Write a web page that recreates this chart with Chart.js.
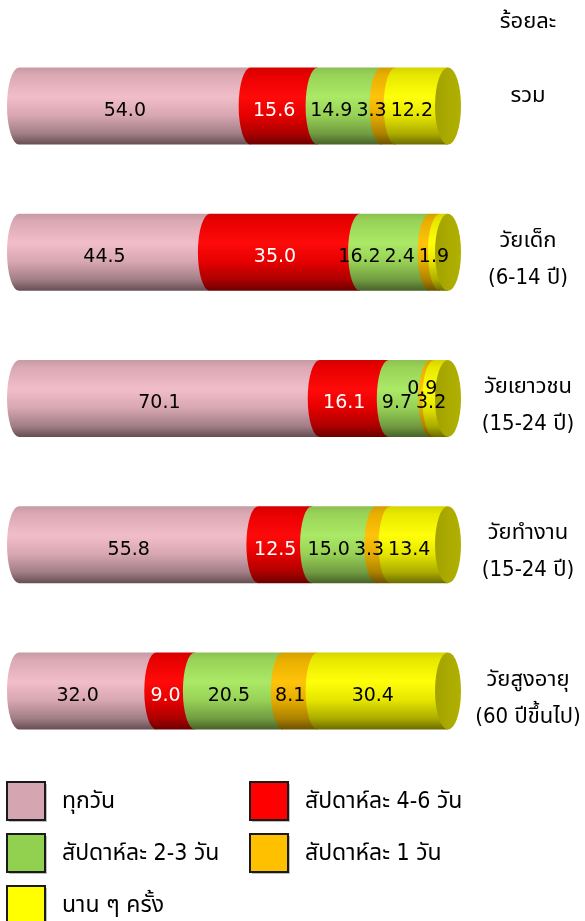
<!DOCTYPE html>
<html>
<head>
<meta charset="utf-8">
<script src="https://cdn.jsdelivr.net/npm/chart.js@4/dist/chart.umd.min.js"></script>
<style>
  html, body { margin: 0; padding: 0; background: #ffffff; }
  #wrap { position: relative; width: 585px; height: 921px; }
</style>
</head>
<body>
<div id="wrap"><canvas id="c" width="585" height="921"></canvas></div>
<script>
// ---- data ----
const categories = [
  ["รวม"],
  ["วัยเด็ก", "(6-14 ปี)"],
  ["วัยเยาวชน", "(15-24 ปี)"],
  ["วัยทำงาน", "(15-24 ปี)"],
  ["วัยสูงอายุ", "(60 ปีขึ้นไป)"]
];
const seriesNames = ["ทุกวัน", "สัปดาห์ละ 4-6 วัน", "สัปดาห์ละ 2-3 วัน", "สัปดาห์ละ 1 วัน", "นาน ๆ ครั้ง"];
const everyDay   = [54.0, 44.5, 70.1, 55.8, 32.0];
const week4to6   = [15.6, 35.0, 16.1, 12.5, 9.0];
const week2to3   = [14.9, 16.2, 9.7, 15.0, 20.5];
const week1      = [3.3, 2.4, 0.9, 3.3, 8.1];
const rarely     = [12.2, 1.9, 3.2, 13.4, 30.4];
const unitLabel = "ร้อยละ";

const seriesColors = ["#D5A6B1", "#FF0000", "#92D050", "#FFC000", "#FFFF00"];
const labelColors  = ["#000000", "#ffffff", "#000000", "#000000", "#000000"];
const FONT = "'DejaVu Sans Condensed', 'DejaVu Sans', 'Noto Sans Thai', sans-serif";
const VFONT = "'DejaVu Sans', sans-serif";

function hexToRgb(h) {
  h = h.replace('#', '');
  return [parseInt(h.substr(0,2),16), parseInt(h.substr(2,2),16), parseInt(h.substr(4,2),16)];
}
function mix(c, t, a) {
  return 'rgb(' + c.map((v, i) => Math.round(v + (t[i] - v) * a)).join(',') + ')';
}
const bodyBase = ["#F0BAC6", "#FF0000", "#A8E860", "#FFC000", "#FFFF00"];

const cylinderPlugin = {
  id: 'cylinder',
  afterDatasetsDraw(chart) {
    const ctx = chart.ctx;
    const nCat = categories.length;
    const nSer = chart.data.datasets.length;
    const rx = 12;
    for (let i = 0; i < nCat; i++) {
      let last = null;
      const segs = [];
      for (let d = 0; d < nSer; d++) {
        const el = chart.getDatasetMeta(d).data[i];
        const p = el.getProps(['x', 'y', 'base', 'height'], true);
        segs.push(p);
        const h = p.height, top = p.y - h / 2, bot = p.y + h / 2;
        const c = hexToRgb(bodyBase[d]);
        const g = ctx.createLinearGradient(0, top, 0, bot);
        g.addColorStop(0, mix(c, [0,0,0], 0.17));
        g.addColorStop(0.1, mix(c, [0,0,0], 0.09));
        g.addColorStop(0.38, mix(c, [255,255,255], 0.04));
        g.addColorStop(0.62, mix(c, [0,0,0], 0.10));
        g.addColorStop(0.86, mix(c, [0,0,0], 0.33));
        g.addColorStop(1, mix(c, [0,0,0], 0.58));
        ctx.save();
        ctx.beginPath();
        ctx.ellipse(p.base, p.y, rx, h / 2, 0, Math.PI / 2, Math.PI * 1.5, false);
        ctx.lineTo(p.x, top);
        ctx.lineTo(p.x, bot);
        ctx.closePath();
        ctx.fillStyle = g;
        ctx.fill();
        ctx.restore();
        last = { p, d };
      }
      if (last) {
        const p = last.p, h = p.height;
        const c = hexToRgb(bodyBase[last.d]);
        const g = ctx.createLinearGradient(p.x - rx, 0, p.x + rx, 0);
        g.addColorStop(0, mix(c, [0,0,0], 0.36));
        g.addColorStop(1, mix(c, [0,0,0], 0.31));
        ctx.save();
        ctx.beginPath();
        ctx.ellipse(p.x, p.y, rx + 1, h / 2, 0, 0, Math.PI * 2);
        ctx.fillStyle = g;
        ctx.fill();
        ctx.restore();
      }
      // value labels with simple collision handling
      ctx.save();
      ctx.font = "19px " + VFONT;
      const labs = segs.map((p, d) => {
        const v = chart.data.datasets[d].data[i];
        const txt = v.toFixed(1);
        return { d, txt, v, x: (p.base + p.x) / 2 - 10, y: p.y + 5, hw: ctx.measureText(txt).width / 2, raised: false };
      });
      for (let k = 1; k < labs.length - 1; k++) {
        const L = labs[k];
        if (L.v < 1.5) {
          const a = labs[k - 1], b = labs[k + 1];
          if (L.x - L.hw < a.x + a.hw || L.x + L.hw > b.x - b.hw) { L.raised = true; L.y -= 14; }
        }
      }
      const flat = labs.filter(l => !l.raised);
      for (let k = flat.length - 2; k >= 0; k--) {
        const lim = flat[k + 1].x - flat[k + 1].hw - 4 - flat[k].hw;
        if (flat[k].x > lim) flat[k].x = lim;
      }
      ctx.textAlign = 'center';
      ctx.textBaseline = 'middle';
      labs.forEach(L => {
        ctx.fillStyle = labelColors[L.d];
        ctx.fillText(L.txt, L.x, L.y);
      });
      ctx.restore();
    }
    // category labels
    const ys = chart.scales.y;
    ctx.save();
    ctx.font = "22px " + FONT;
    ctx.fillStyle = '#000';
    ctx.textAlign = 'center';
    ctx.textBaseline = 'middle';
    categories.forEach((lines, i) => {
      const yc = ys.getPixelForValue(i);
      const lh = 37;
      const start = lines.length === 1 ? yc - 10 : yc - 11;
      lines.forEach((t, k) => ctx.fillText(t, 528, start + k * lh));
    });
    ctx.fillText(unitLabel, 528, 22);
    ctx.restore();

    // legend
    const pos = [[7, 782], [250, 782], [7, 834], [250, 834], [7, 886]];
    ctx.save();
    seriesNames.forEach((name, d) => {
      const [lx, ly] = pos[d];
      ctx.fillStyle = 'rgba(0,0,0,0.25)';
      ctx.fillRect(lx + 2, ly + 2, 38, 38);
      ctx.fillStyle = seriesColors[d];
      ctx.fillRect(lx, ly, 38, 38);
      ctx.lineWidth = 2;
      ctx.strokeStyle = '#1a1a1a';
      ctx.strokeRect(lx, ly, 38, 38);
      ctx.fillStyle = '#000';
      ctx.font = "23px " + FONT;
      ctx.textAlign = 'left';
      ctx.textBaseline = 'middle';
      ctx.fillText(name, lx + 55, ly + 20);
    });
    ctx.restore();
  }
};

const seriesData = [everyDay, week4to6, week2to3, week1, rarely];
new Chart(document.getElementById('c'), {
  type: 'bar',
  data: {
    labels: categories.map(l => l.join(' ')),
    datasets: seriesNames.map((n, d) => ({
      label: n,
      data: seriesData[d],
      backgroundColor: 'rgba(0,0,0,0)',
      borderWidth: 0,
      categoryPercentage: 1,
      barPercentage: 0.527
    }))
  },
  options: {
    indexAxis: 'y',
    responsive: false,
    animation: false,
    layout: { padding: { left: 19, right: 137, top: 33, bottom: 157 } },
    scales: {
      x: { stacked: true, min: 0, max: 100, display: false },
      y: { stacked: true, display: false }
    },
    plugins: { legend: { display: false }, tooltip: { enabled: false } }
  },
  plugins: [cylinderPlugin]
});
</script>
</body>
</html>
